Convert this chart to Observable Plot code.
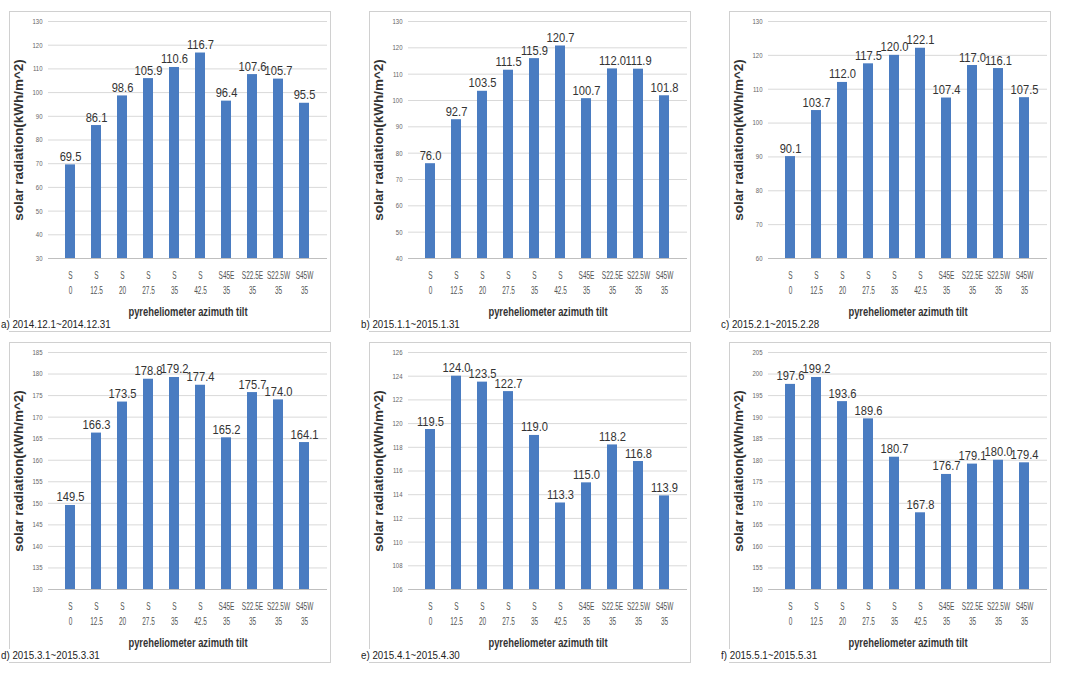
<!DOCTYPE html>
<html>
<head>
<meta charset="utf-8">
<script src="https://cdn.jsdelivr.net/npm/d3@7"></script>
<script src="https://cdn.jsdelivr.net/npm/@observablehq/plot@0.6"></script>
<style>
  html, body { margin: 0; padding: 0; background: #fff; }
  #root { position: relative; width: 1073px; height: 676px; overflow: hidden; background:#fff; }
  .panel { position: absolute; width: 357px; height: 335px; }
  .frame { position: absolute; left: 9px; top: 11px; width: 322px; height: 321px; border: 1px solid #d0d0d0; box-sizing: border-box; }
  .panel svg { position: absolute; left: 0; top: 0; }
  .cap { position: absolute; left: 1px; top: 318px; font-family: "Liberation Sans", sans-serif; font-size: 11px; line-height: 13px; color: #222; background: #fff; padding-right: 2px; white-space: nowrap; transform: scaleX(0.89); transform-origin: left top; }
</style>
</head>
<body>
<div id="root"></div>
<script>
const azimuths = ["S", "S", "S", "S", "S", "S", "S45E", "S22.5E", "S22.5W", "S45W"];
const tilts = ["0", "12.5", "20", "27.5", "35", "42.5", "35", "35", "35", "35"];

const valuesA = [69.5, 86.1, 98.6, 105.9, 110.6, 116.7, 96.4, 107.6, 105.7, 95.5];
const valuesB = [76.0, 92.7, 103.5, 111.5, 115.9, 120.7, 100.7, 112.0, 111.9, 101.8];
const valuesC = [90.1, 103.7, 112.0, 117.5, 120.0, 122.1, 107.4, 117.0, 116.1, 107.5];
const valuesD = [149.5, 166.3, 173.5, 178.8, 179.2, 177.4, 165.2, 175.7, 174.0, 164.1];
const valuesE = [119.5, 124.0, 123.5, 122.7, 119.0, 113.3, 115.0, 118.2, 116.8, 113.9];
const valuesF = [197.6, 199.2, 193.6, 189.6, 180.7, 167.8, 176.7, 179.1, 180.0, 179.4];

const ticksA = d3.range(30, 131, 10);
const ticksB = d3.range(40, 131, 10);
const ticksC = d3.range(60, 131, 10);
const ticksD = d3.range(130, 186, 5);
const ticksE = d3.range(106, 127, 2);
const ticksF = d3.range(150, 206, 5);

const captions = [
  "a) 2014.12.1~2014.12.31",
  "b) 2015.1.1~2015.1.31",
  "c) 2015.2.1~2015.2.28",
  "d) 2015.3.1~2015.3.31",
  "e) 2015.4.1~2015.4.30",
  "f) 2015.5.1~2015.5.31"
];
const yLabel = "solar radiation(kWh/m^2)";
const xLabel = "pyreheliometer azimuth tilt";

const panels = [
  {values: valuesA, ticks: ticksA},
  {values: valuesB, ticks: ticksB},
  {values: valuesC, ticks: ticksC},
  {values: valuesD, ticks: ticksD},
  {values: valuesE, ticks: ticksE},
  {values: valuesF, ticks: ticksF}
];

const font = "Liberation Sans, Arial, sans-serif";
const root = document.getElementById("root");

// horizontal squeeze factor per mark index (marks order in the plot below)
const squeeze = {3: 0.8, 4: 0.93, 5: 0.65, 6: 0.65, 7: 0.75};

panels.forEach((p, i) => {
  const col = i % 3, row = Math.floor(i / 3);
  const div = document.createElement("div");
  div.className = "panel";
  div.style.left = (col * 360) + "px";
  div.style.top = (row * 330 + (row ? 1 : 0)) + "px";
  const frame = document.createElement("div");
  frame.className = "frame";
  div.appendChild(frame);

  const data = p.values.map((v, k) => ({key: azimuths[k] + "|" + tilts[k], az: azimuths[k], tilt: tilts[k], value: v}));
  const keys = data.map(d => d.key);
  const yDomain = [p.ticks[0], p.ticks[p.ticks.length - 1]];

  const chart = Plot.plot({
    width: 340,
    height: 335,
    marginLeft: 48,
    marginRight: 13,
    marginTop: 21,
    marginBottom: 77,
    style: {background: "transparent", overflow: "visible"},
    x: {domain: keys, padding: 0.6, axis: null},
    y: {domain: yDomain, axis: null},
    marks: [
      Plot.gridY(p.ticks, {stroke: "#d9d9d9", strokeOpacity: 1, strokeWidth: 1}),
      Plot.barY(data, {x: "key", y1: yDomain[0], y2: "value", fill: "#4a7cc1"}),
      Plot.ruleY([yDomain[0]], {stroke: "#bfbfbf", strokeWidth: 1}),
      Plot.text(p.ticks, {y: d => d, frameAnchor: "left", dx: -6, textAnchor: "end", text: d => String(d), fontSize: 7.5, fill: "#666", fontFamily: font}),
      Plot.text(data, {x: "key", y: "value", text: d => d.value.toFixed(1), lineAnchor: "bottom", dy: -4, fontSize: 12, fill: "#333", fontFamily: font}),
      Plot.text(data, {x: "key", frameAnchor: "bottom", text: "az", dy: 20, fontSize: 10, fill: "#555", fontFamily: font}),
      Plot.text(data, {x: "key", frameAnchor: "bottom", text: "tilt", dy: 35, fontSize: 10, fill: "#555", fontFamily: font}),
      Plot.text([xLabel], {frameAnchor: "bottom", text: d => d, dy: 57, fontSize: 12.5, fontWeight: "bold", fill: "#333", fontFamily: font}),
      Plot.text([yLabel], {frameAnchor: "left", textAnchor: "middle", text: d => d, rotate: -90, dx: -30, fontSize: 13.5, fontWeight: "bold", fill: "#333", fontFamily: font})
    ]
  });
  const groups = Array.from(chart.children).filter(e => e.tagName.toLowerCase() === "g");
  Object.entries(squeeze).forEach(([idx, k]) => {
    const g = groups[+idx];
    if (!g) return;
    g.querySelectorAll("text").forEach(t => {
      const tr = t.getAttribute("transform") || "";
      t.setAttribute("transform", tr + ` scale(${k},1)`);
    });
  });
  div.appendChild(chart);

  const cap = document.createElement("div");
  cap.className = "cap";
  cap.textContent = captions[i];
  div.appendChild(cap);
  root.appendChild(div);
});
</script>
</body>
</html>
